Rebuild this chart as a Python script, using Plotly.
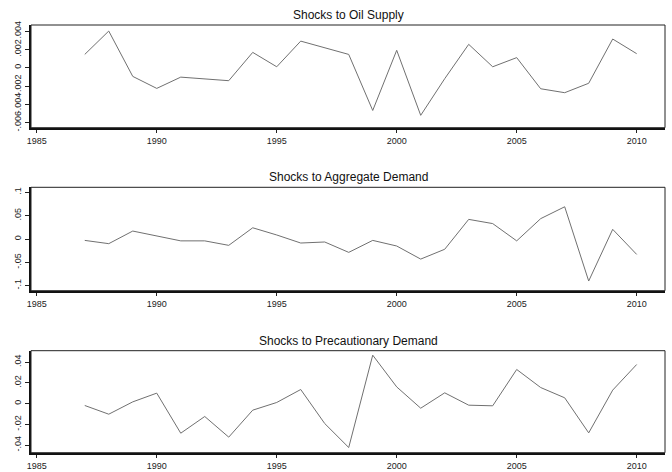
import plotly.graph_objects as go

years = list(range(1987, 2011))

oil_supply = [0.00145, 0.0040, -0.00095, -0.00226, -0.00103, -0.0012, -0.00142, 0.00167,
              0.0001, 0.0029, 0.0022, 0.00145, -0.00467, 0.0019, -0.0052, -0.0012,
              0.00255, 0.0001, 0.0011, -0.0023, -0.00273, -0.0017, 0.00313, 0.00153]

aggregate_demand = [-0.003, -0.010, 0.017, 0.006, -0.004, -0.004, -0.0136, 0.024,
                    0.0086, -0.0086, -0.0064, -0.0286, -0.003, -0.015, -0.043, -0.022,
                    0.042, 0.033, -0.004, 0.0436, 0.069, -0.090, 0.0207, -0.033]

precautionary_demand = [-0.0019, -0.0103, 0.0016, 0.010, -0.0286, -0.0125, -0.0324, -0.0064,
                        0.001, 0.0135, -0.0193, -0.0424, 0.0466, 0.016, -0.0045, 0.0103,
                        -0.0016, -0.0022, 0.0328, 0.0154, 0.0055, -0.0283, 0.0129, 0.0376]

titles = ["Shocks to Oil Supply", "Shocks to Aggregate Demand", "Shocks to Precautionary Demand"]

x_ticks = [1985, 1990, 1995, 2000, 2005, 2010]
y_ticks = [
    ([0.004, 0.002, 0, -0.002, -0.004, -0.006], [".004", ".002", "0", "-.002", "-.004", "-.006"]),
    ([0.1, 0.05, 0, -0.05, -0.1], [".1", ".05", "0", "-.05", "-.1"]),
    ([0.04, 0.02, 0, -0.02, -0.04], [".04", ".02", "0", "-.02", "-.04"]),
]
y_ranges = [(-0.00655, 0.00466), (-0.1107, 0.1107), (-0.0474, 0.0509)]

series = [oil_supply, aggregate_demand, precautionary_demand]

W, H = 672, 472
x_dom = [31 / W, 665 / W]
y_px = [(25, 127.7), (187.3, 290.7), (350.7, 452.7)]

fig = go.Figure()
font_family = "Liberation Sans, Arial, sans-serif"

layout = dict(
    width=W, height=H,
    margin=dict(l=0, r=0, t=0, b=0, autoexpand=False),
    paper_bgcolor="white", plot_bgcolor="white",
    showlegend=False,
    font=dict(family=font_family, color="#222"),
)
shapes = []
annotations = []

for i, (vals, title) in enumerate(zip(series, titles)):
    n = i + 1
    xa = "x" if n == 1 else f"x{n}"
    ya = "y" if n == 1 else f"y{n}"
    fig.add_trace(go.Scatter(x=years, y=vals, mode="lines",
                             line=dict(color="#707070", width=1),
                             xaxis=xa, yaxis=ya, hoverinfo="skip"))
    top, bot = y_px[i]
    dom = [1 - bot / H, 1 - top / H]
    xkey = "xaxis" if n == 1 else f"xaxis{n}"
    ykey = "yaxis" if n == 1 else f"yaxis{n}"
    layout[xkey] = dict(
        domain=x_dom, anchor=ya, range=[1984.76, 2011.18], automargin=False,
        tickvals=x_ticks, ticktext=[str(t) for t in x_ticks],
        ticks="outside", ticklen=3, tickwidth=1, tickcolor="#222",
        showgrid=False, zeroline=False,
        showline=True, linecolor="#111", linewidth=2,
        tickfont=dict(size=9, family=font_family, color="#222"),
    )
    ticks, labels = y_ticks[i]
    layout[ykey] = dict(
        domain=dom, anchor=xa, range=list(y_ranges[i]), automargin=False,
        tickvals=ticks, ticktext=labels, tickangle=-90,
        ticks="outside", ticklen=4, tickwidth=1, tickcolor="#222",
        showgrid=False, zeroline=False,
        showline=True, linecolor="#111", linewidth=2,
        tickfont=dict(size=9, family=font_family, color="#222"),
    )
    shapes.append(dict(type="rect", xref=f"{xa} domain", yref=f"{ya} domain",
                       x0=0, x1=1, y0=0, y1=1, line=dict(color="#222", width=1),
                       fillcolor="rgba(0,0,0,0)"))
    annotations.append(dict(text=title, xref="paper", yref="paper",
                            x=(x_dom[0] + x_dom[1]) / 2, y=dom[1], yanchor="bottom",
                            xanchor="center", yshift=1, showarrow=False,
                            font=dict(size=12, family=font_family, color="#111")))

layout["shapes"] = shapes
layout["annotations"] = annotations
fig.update_layout(**layout)
fig.write_html("out.html", config={"displayModeBar": False},
               post_script="document.body.style.margin='0';")
